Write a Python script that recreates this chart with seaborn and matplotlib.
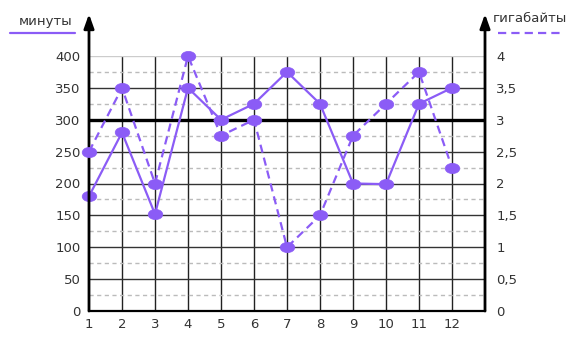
import numpy as np
import pandas as pd
import matplotlib
matplotlib.use("Agg")
import matplotlib.pyplot as plt
from matplotlib.path import Path
import seaborn as sns

months = [1, 2, 3, 4, 5, 6, 7, 8, 9, 10, 11, 12]
minutes = [180, 280, 152, 350, 300, 325, 375, 325, 200, 199, 325, 350]
gigabytes = [2.5, 3.5, 2.0, 4.0, 2.75, 3.0, 1.0, 1.5, 2.75, 3.25, 3.75, 2.25]
left_ticks = [0, 50, 100, 150, 200, 250, 300, 350, 400]
right_ticks = [0, 0.5, 1, 1.5, 2, 2.5, 3, 3.5, 4]
right_labels = ["0", "0,5", "1", "1,5", "2", "2,5", "3", "3,5", "4"]
label_min = "минуты"
label_gb = "гигабайты"

PURPLE = "#8b5cf6"
TXT = "#333333"

sns.set_theme(style="white")
plt.rcParams['font.family'] = ['DejaVu Sans']

W, H = 573, 338
fig = plt.figure(figsize=(W / 100, H / 100), dpi=100)
L, R, B, T = 89, 485, 311, 56
ax = fig.add_axes([L / W, 1 - B / H, (R - L) / W, (B - T) / H])
ax.set_facecolor("none")

df = pd.DataFrame({"month": months, "minutes": minutes, "gb": gigabytes})

ax.set_xlim(1, 13)
ax.set_ylim(0, 400)

# grid lines
for x in range(2, 13):
    ax.axvline(x, color="#222222", lw=1.0, zorder=1)
for y in [50, 100, 150, 200, 250, 350]:
    ax.axhline(y, color="#333333", lw=1.0, zorder=1)
ax.axhline(400, color="#cccccc", lw=1.0, zorder=1)
for y in np.arange(25, 400, 50):
    ax.axhline(y, color="#bbbbbb", lw=1.0, ls=(0, (3, 2.5)), zorder=1)
ax.axhline(300, color="black", lw=2.4, zorder=2)

# elliptical marker
uc = Path.unit_circle()
ell = Path(uc.vertices * np.array([1.0, 0.7]), uc.codes)

ax2 = ax.twinx()
ax2.set_ylim(0, 4)

sns.lineplot(data=df, x="month", y="minutes", ax=ax, color=PURPLE, lw=1.6,
             clip_on=False, zorder=5)
sns.lineplot(data=df, x="month", y="gb", ax=ax2, color=PURPLE, lw=1.6,
             clip_on=False, zorder=5)
ax2.lines[0].set_dashes((3.7, 2.3))
for ln0 in (ax.lines[-1], ax2.lines[0]):
    ln0.set_marker(ell)
    ln0.set_markersize(10.5)
    ln0.set_markerfacecolor(PURPLE)
    ln0.set_markeredgecolor(PURPLE)
    ln0.set_markeredgewidth(0.5)
    ln0.set_fillstyle("full")

ax.set_xlabel("")
ax.set_ylabel("")
ax2.set_ylabel("")

ax.set_xticks(months)
ax.set_xticklabels([str(m) for m in months], fontsize=9.5, color=TXT)
ax.set_yticks(left_ticks)
ax.set_yticklabels([str(v) for v in left_ticks], fontsize=9.5, color=TXT)
ax2.set_yticks(right_ticks)
ax2.set_yticklabels(right_labels, fontsize=9.5, color=TXT)
ax.tick_params(axis="both", length=0, pad=6)
ax.tick_params(axis="x", pad=5)
ax2.tick_params(axis="y", length=0, pad=8)
ax.set_xlim(1, 13)

for a in (ax, ax2):
    for s in ("top", "left", "right", "bottom"):
        a.spines[s].set_visible(False)
ax.spines["bottom"].set_visible(True)
ax.spines["bottom"].set_color("black")
ax.spines["bottom"].set_linewidth(1.6)

# axes with arrows
top_frac = 1 + (T - 14) / (B - T)
for xf in (0, 1):
    ax.annotate("", xy=(xf, top_frac), xytext=(xf, 0), xycoords="axes fraction",
                arrowprops=dict(arrowstyle="-|>,head_length=0.7,head_width=0.25",
                                color="black", lw=2.0, shrinkA=0, shrinkB=0),
                annotation_clip=False, zorder=10)

# legends
fig.text(46 / W, 1 - 21 / H, label_min, ha="center", va="center", fontsize=9.5, color=TXT)
fig.add_artist(plt.Line2D([10 / W, 75 / W], [1 - 33 / H, 1 - 33 / H], color=PURPLE, lw=1.6))
fig.text(530 / W, 1 - 19 / H, label_gb, ha="center", va="center", fontsize=9.5, color=TXT)
ln = plt.Line2D([498 / W, 563 / W], [1 - 33 / H, 1 - 33 / H], color=PURPLE, lw=1.6)
ln.set_dashes((3.7, 2.3))
fig.add_artist(ln)

fig.savefig("out.png", dpi=100)
